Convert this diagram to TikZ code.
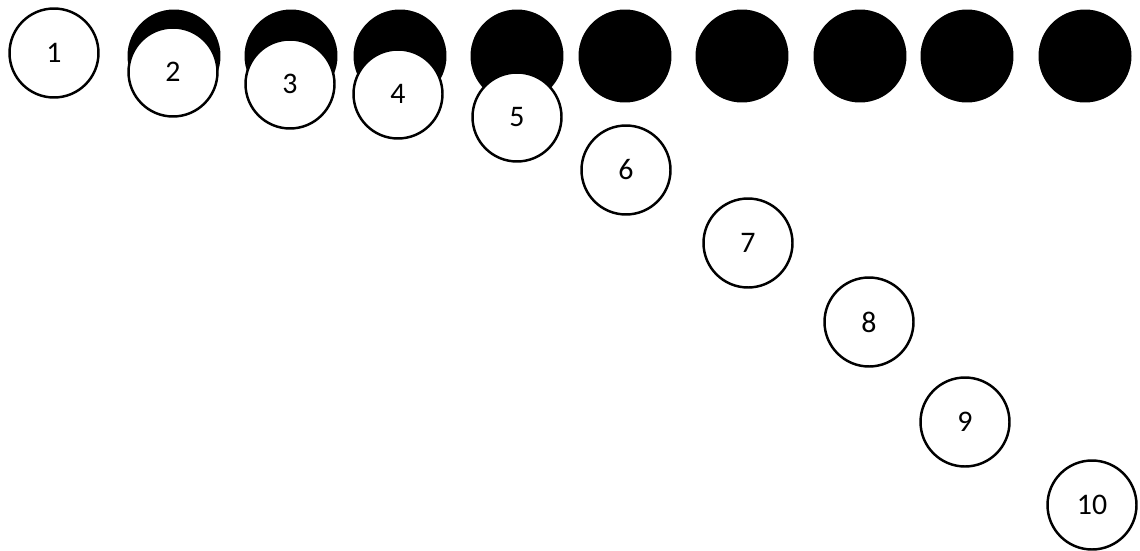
\documentclass[tikz,border=0pt]{standalone}
\usepackage{fontspec}
\setmainfont{Carlito}
\begin{document}
\begin{tikzpicture}[
  x=0.02cm, y=-0.02cm,
  eclshadow/.style = {circle, fill=black, inner sep=0pt, minimum size=1.86cm},
  eclball/.style = {circle, draw=black, line width=1.4pt, fill=white,
    inner sep=0pt, minimum size=1.78cm, font=\fontsize{17}{20}\selectfont}
]
  \useasboundingbox (0,0) rectangle (1140,551);
  % dark discs along the top
  \node[eclshadow] (s2) at (174,56) {};
  \node[eclshadow] (s3) at (291,56) {};
  \node[eclshadow] (s4) at (400,56) {};
  \node[eclshadow] (s5) at (517,56) {};
  \node[eclshadow] (s6) at (625,56) {};
  \node[eclshadow] (s7) at (742,56) {};
  \node[eclshadow] (s8) at (860,56) {};
  \node[eclshadow] (s9) at (967,56) {};
  \node[eclshadow] (s10) at (1085,56) {};
  % numbered discs sliding down
  \node[eclball] (b1) at (54,53) {1};
  \node[eclball] (b2) at (173,72) {2};
  \node[eclball] (b3) at (290,84) {3};
  \node[eclball] (b4) at (398,94) {4};
  \node[eclball] (b5) at (517,117) {5};
  \node[eclball] (b6) at (626,170) {6};
  \node[eclball] (b7) at (748,243) {7};
  \node[eclball] (b8) at (869,322) {8};
  \node[eclball] (b9) at (965,422) {9};
  \node[eclball] (b10) at (1092,505) {10};
\end{tikzpicture}
\end{document}
